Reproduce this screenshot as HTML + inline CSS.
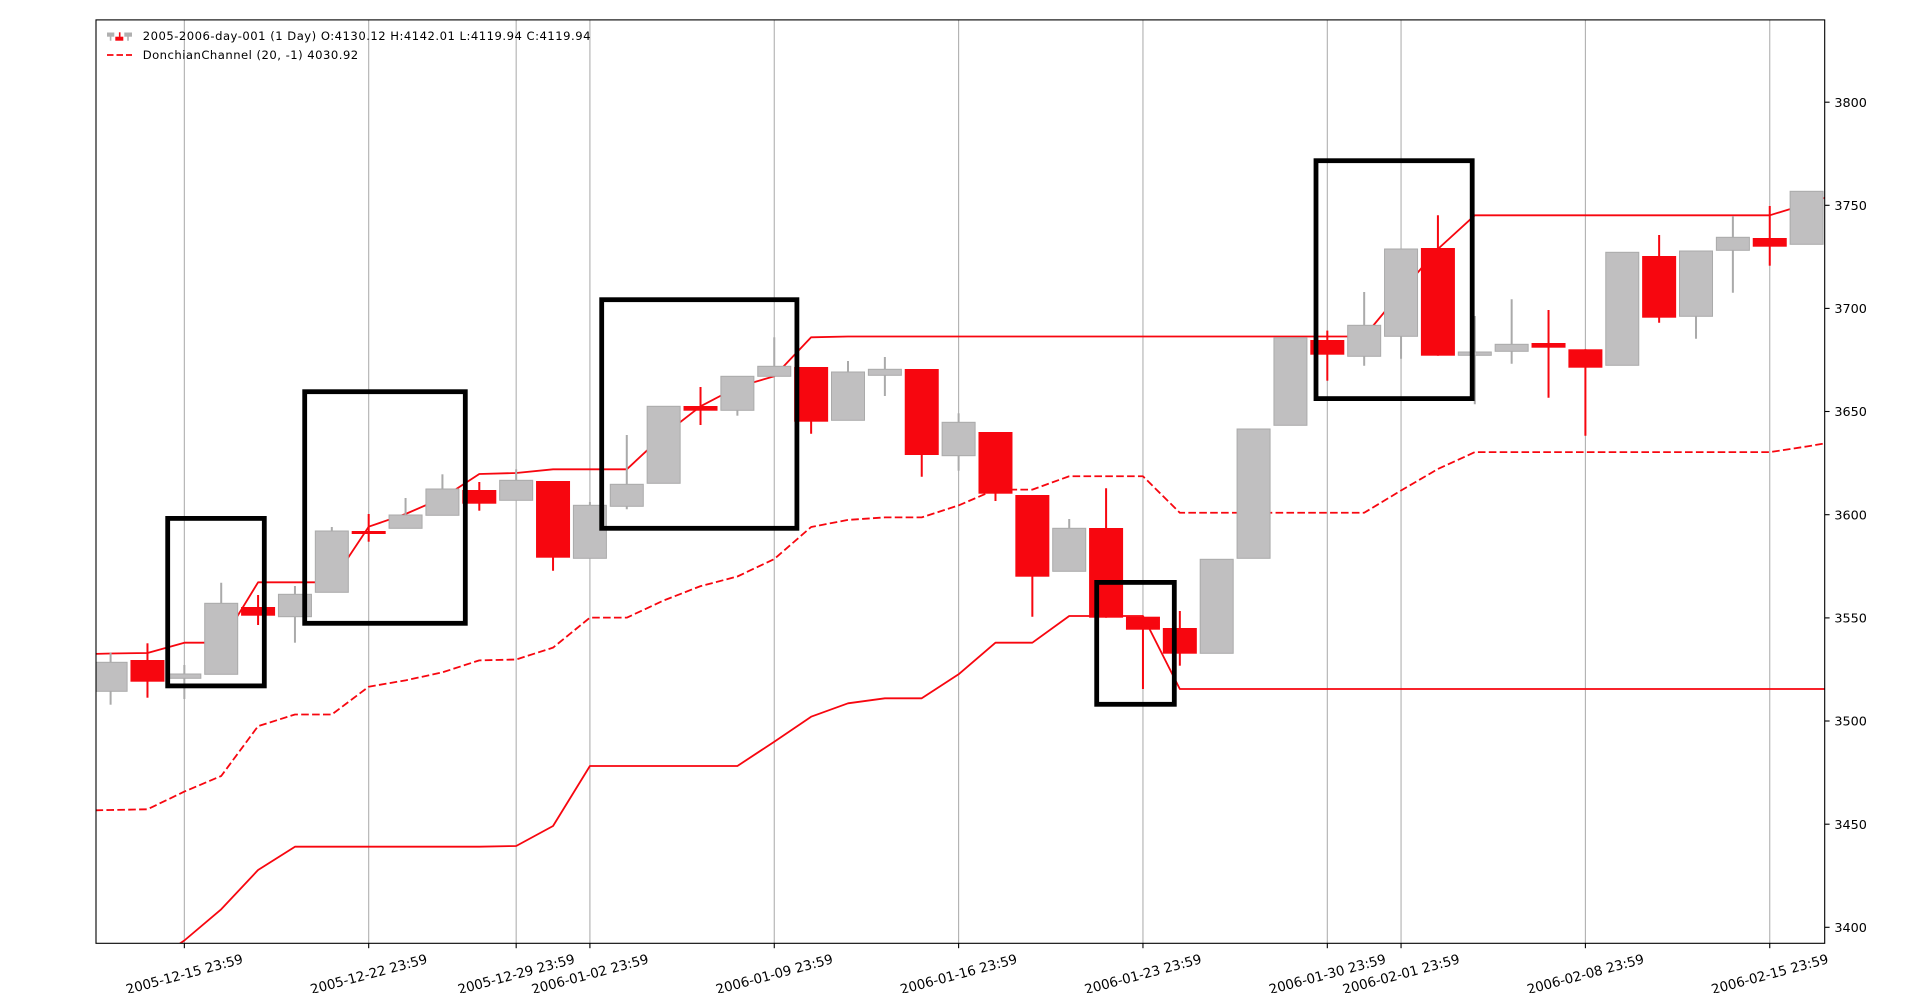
<!DOCTYPE html>
<html><head><meta charset="utf-8"><style>
html,body{margin:0;padding:0;background:#fff;}
svg{display:block;}
text{font-family:"DejaVu Sans","Liberation Sans",sans-serif;fill:#000;}
</style></head><body>
<svg width="1920" height="993" viewBox="0 0 1920 993" xmlns="http://www.w3.org/2000/svg">
<defs><clipPath id="c"><rect x="96" y="19.9" width="1728.7" height="923.4"/></clipPath></defs>
<rect x="0" y="0" width="1920" height="993" fill="#fff"/>
<g stroke="#b0b0b0" stroke-width="1.1">
<line x1="184.34" y1="19.9" x2="184.34" y2="943.3"/><line x1="368.69" y1="19.9" x2="368.69" y2="943.3"/>
<line x1="516.17" y1="19.9" x2="516.17" y2="943.3"/><line x1="589.91" y1="19.9" x2="589.91" y2="943.3"/>
<line x1="774.26" y1="19.9" x2="774.26" y2="943.3"/><line x1="958.61" y1="19.9" x2="958.61" y2="943.3"/>
<line x1="1142.96" y1="19.9" x2="1142.96" y2="943.3"/><line x1="1327.31" y1="19.9" x2="1327.31" y2="943.3"/>
<line x1="1401.05" y1="19.9" x2="1401.05" y2="943.3"/><line x1="1585.4" y1="19.9" x2="1585.4" y2="943.3"/>
<line x1="1769.75" y1="19.9" x2="1769.75" y2="943.3"/>
</g>
<g clip-path="url(#c)" fill="none" stroke="#f7060f" stroke-width="1.8" stroke-linejoin="round">
<polyline points="73.73,654.5 110.6,653.5 147.47,653 184.34,642.7 221.21,642.7 258.08,582.3 294.95,582.3 331.82,582.3 368.69,526.7 405.56,514 442.43,498 479.3,474 516.17,473 553.04,469.3 589.91,469.3 626.78,469.3 663.65,435 700.52,406.3 737.39,387 774.26,376.3 811.13,337.3 848,336.5 1364.18,336.5 1401.05,292 1437.92,249 1474.79,215.3 1769.75,215.3 1806.62,204 1843.49,191.3"/>
<polyline points="73.73,967 110.6,966.5 147.47,965.6 184.34,940.5 221.21,909.3 258.08,870 294.95,846.7 479.3,846.7 516.17,846 553.04,826 589.91,766 737.39,766 774.26,741.7 811.13,716.7 848,703.3 884.87,698.3 921.74,698.3 958.61,674.3 995.48,642.7 1032.35,642.7 1069.22,616 1142.96,616 1179.83,689 1843.49,689"/>
<polyline stroke-dasharray="7.6 3.3" points="73.73,810.75 110.6,810 147.47,809.3 184.34,791.6 221.21,776 258.08,726.15 294.95,714.5 331.82,714.5 368.69,686.7 405.56,680.35 442.43,672.35 479.3,660.35 516.17,659.5 553.04,647.65 589.91,617.65 626.78,617.65 663.65,600.5 700.52,586.15 737.39,576.5 774.26,559 811.13,527 848,519.9 884.87,517.4 921.74,517.4 958.61,505.4 995.48,489.6 1032.35,489.6 1069.22,476.25 1142.96,476.25 1179.83,512.75 1364.18,512.75 1401.05,490.5 1437.92,469 1474.79,452.15 1769.75,452.15 1806.62,446.5 1843.49,440.2"/>
</g>
<g clip-path="url(#c)">
<g stroke="#aaaaaa" stroke-width="2">
<line x1="110.6" y1="652.7" x2="110.6" y2="704.7"/>
<line x1="184.34" y1="665" x2="184.34" y2="699"/>
<line x1="221.21" y1="582.7" x2="221.21" y2="674.3"/>
<line x1="294.95" y1="586" x2="294.95" y2="642.7"/>
<line x1="331.82" y1="527" x2="331.82" y2="592.3"/>
<line x1="405.56" y1="498" x2="405.56" y2="528.3"/>
<line x1="442.43" y1="474.3" x2="442.43" y2="515.3"/>
<line x1="516.17" y1="469.3" x2="516.17" y2="500.3"/>
<line x1="589.91" y1="502" x2="589.91" y2="558.3"/>
<line x1="626.78" y1="435" x2="626.78" y2="509.3"/>
<line x1="737.39" y1="376.3" x2="737.39" y2="415.7"/>
<line x1="774.26" y1="337.3" x2="774.26" y2="376.3"/>
<line x1="848" y1="361" x2="848" y2="420.3"/>
<line x1="884.87" y1="357" x2="884.87" y2="396"/>
<line x1="958.61" y1="413.3" x2="958.61" y2="470.7"/>
<line x1="1069.22" y1="519" x2="1069.22" y2="571.3"/>
<line x1="1364.18" y1="292" x2="1364.18" y2="365.7"/>
<line x1="1401.05" y1="249" x2="1401.05" y2="358.7"/>
<line x1="1474.79" y1="316" x2="1474.79" y2="404.3"/>
<line x1="1511.66" y1="299.3" x2="1511.66" y2="363.7"/>
<line x1="1696.01" y1="251" x2="1696.01" y2="338.7"/>
<line x1="1732.88" y1="216" x2="1732.88" y2="292.7"/>
</g>
<g fill="#c0bfc0" stroke="#aaaaaa" stroke-width="1">
<rect x="94.1" y="662.3" width="33" height="29"/>
<rect x="167.84" y="674" width="33" height="4.3"/>
<rect x="204.71" y="603.3" width="33" height="71"/>
<rect x="278.45" y="594.3" width="33" height="22.4"/>
<rect x="315.32" y="531" width="33" height="61.3"/>
<rect x="389.06" y="515" width="33" height="13.3"/>
<rect x="425.93" y="489" width="33" height="26.3"/>
<rect x="499.67" y="480.3" width="33" height="20"/>
<rect x="573.41" y="505.3" width="33" height="53"/>
<rect x="610.28" y="484.3" width="33" height="22"/>
<rect x="647.15" y="406.3" width="33" height="77"/>
<rect x="720.89" y="376.3" width="33" height="34"/>
<rect x="757.76" y="366.3" width="33" height="10"/>
<rect x="831.5" y="372" width="33" height="48.3"/>
<rect x="868.37" y="369.3" width="33" height="6"/>
<rect x="942.11" y="422.3" width="33" height="33.4"/>
<rect x="1052.72" y="528.3" width="33" height="43"/>
<rect x="1200.2" y="559.3" width="33" height="94"/>
<rect x="1237.07" y="429" width="33" height="129.3"/>
<rect x="1273.94" y="337.7" width="33" height="87.6"/>
<rect x="1347.68" y="325.3" width="33" height="31"/>
<rect x="1384.55" y="249" width="33" height="87.3"/>
<rect x="1458.29" y="352" width="33" height="3.3"/>
<rect x="1495.16" y="344.3" width="33" height="7"/>
<rect x="1605.77" y="252.3" width="33" height="113"/>
<rect x="1679.51" y="251" width="33" height="65.3"/>
<rect x="1716.38" y="237.3" width="33" height="13"/>
<rect x="1790.12" y="191.3" width="33" height="53"/>
</g>
<g stroke="#f7060f" stroke-width="2">
<line x1="147.47" y1="643.3" x2="147.47" y2="697.7"/>
<line x1="258.08" y1="595" x2="258.08" y2="625"/>
<line x1="368.69" y1="514" x2="368.69" y2="541.7"/>
<line x1="479.3" y1="482" x2="479.3" y2="510.7"/>
<line x1="553.04" y1="481" x2="553.04" y2="570.7"/>
<line x1="700.52" y1="387" x2="700.52" y2="425"/>
<line x1="811.13" y1="367" x2="811.13" y2="433.7"/>
<line x1="921.74" y1="369" x2="921.74" y2="476.7"/>
<line x1="995.48" y1="432" x2="995.48" y2="501"/>
<line x1="1032.35" y1="495" x2="1032.35" y2="616.7"/>
<line x1="1106.09" y1="488.3" x2="1106.09" y2="617.7"/>
<line x1="1142.96" y1="616.7" x2="1142.96" y2="689"/>
<line x1="1179.83" y1="611" x2="1179.83" y2="665.7"/>
<line x1="1327.31" y1="330.6" x2="1327.31" y2="380.7"/>
<line x1="1437.92" y1="215.3" x2="1437.92" y2="355.7"/>
<line x1="1548.53" y1="310" x2="1548.53" y2="397.7"/>
<line x1="1585.4" y1="349.3" x2="1585.4" y2="435.7"/>
<line x1="1659.14" y1="235" x2="1659.14" y2="322.7"/>
<line x1="1769.75" y1="206" x2="1769.75" y2="265.7"/>
</g>
<g fill="#f7060f">
<rect x="130.47" y="660" width="34" height="21.7"/>
<rect x="241.08" y="607" width="34" height="8.7"/>
<rect x="351.69" y="531" width="34" height="3"/>
<rect x="462.3" y="490" width="34" height="13.7"/>
<rect x="536.04" y="481" width="34" height="76.7"/>
<rect x="683.52" y="406" width="34" height="4.7"/>
<rect x="794.13" y="367" width="34" height="54.7"/>
<rect x="904.74" y="369" width="34" height="86"/>
<rect x="978.48" y="432" width="34" height="61.7"/>
<rect x="1015.35" y="495" width="34" height="81.7"/>
<rect x="1089.09" y="528" width="34" height="89.7"/>
<rect x="1125.96" y="616.7" width="34" height="13"/>
<rect x="1162.83" y="628" width="34" height="25.7"/>
<rect x="1310.31" y="340" width="34" height="14.7"/>
<rect x="1420.92" y="248" width="34" height="107.7"/>
<rect x="1531.53" y="343" width="34" height="4.7"/>
<rect x="1568.4" y="349.3" width="34" height="18.4"/>
<rect x="1642.14" y="256" width="34" height="61.7"/>
<rect x="1752.75" y="238" width="34" height="8.7"/>
</g>
</g>
<g fill="none" stroke="#000" stroke-width="4.8">
<rect x="167.7" y="518.4" width="96.6" height="167.5"/>
<rect x="304.7" y="391.7" width="160.6" height="231.6"/>
<rect x="601.7" y="299.7" width="195.2" height="228.6"/>
<rect x="1096.7" y="582.4" width="77.6" height="121.9"/>
<rect x="1316" y="160.7" width="156.2" height="237.9"/>
</g>
<rect x="96" y="19.9" width="1728.7" height="923.4" fill="none" stroke="#000" stroke-width="1.1"/>
<g stroke="#000" stroke-width="1.1">
<line x1="184.34" y1="943.3" x2="184.34" y2="948.2"/><line x1="368.69" y1="943.3" x2="368.69" y2="948.2"/>
<line x1="516.17" y1="943.3" x2="516.17" y2="948.2"/><line x1="589.91" y1="943.3" x2="589.91" y2="948.2"/>
<line x1="774.26" y1="943.3" x2="774.26" y2="948.2"/><line x1="958.61" y1="943.3" x2="958.61" y2="948.2"/>
<line x1="1142.96" y1="943.3" x2="1142.96" y2="948.2"/><line x1="1327.31" y1="943.3" x2="1327.31" y2="948.2"/>
<line x1="1401.05" y1="943.3" x2="1401.05" y2="948.2"/><line x1="1585.4" y1="943.3" x2="1585.4" y2="948.2"/>
<line x1="1769.75" y1="943.3" x2="1769.75" y2="948.2"/>
<line x1="1824.7" y1="102.2" x2="1829.6" y2="102.2"/><line x1="1824.7" y1="205.3" x2="1829.6" y2="205.3"/>
<line x1="1824.7" y1="308.4" x2="1829.6" y2="308.4"/><line x1="1824.7" y1="411.5" x2="1829.6" y2="411.5"/>
<line x1="1824.7" y1="514.7" x2="1829.6" y2="514.7"/><line x1="1824.7" y1="617.9" x2="1829.6" y2="617.9"/>
<line x1="1824.7" y1="721" x2="1829.6" y2="721"/><line x1="1824.7" y1="824.2" x2="1829.6" y2="824.2"/>
<line x1="1824.7" y1="927.3" x2="1829.6" y2="927.3"/>
</g>
<g font-size="12.8">
<text x="1834.4" y="106.8" textLength="32.5">3800</text>
<text x="1834.4" y="209.9" textLength="32.5">3750</text>
<text x="1834.4" y="313" textLength="32.5">3700</text>
<text x="1834.4" y="416.1" textLength="32.5">3650</text>
<text x="1834.4" y="519.3" textLength="32.5">3600</text>
<text x="1834.4" y="622.5" textLength="32.5">3550</text>
<text x="1834.4" y="725.6" textLength="32.5">3500</text>
<text x="1834.4" y="828.8" textLength="32.5">3450</text>
<text x="1834.4" y="931.9" textLength="32.5">3400</text>
</g>
<g font-size="13.4" text-anchor="middle">
<text transform="translate(184.34,974) rotate(-15)" y="4.8" textLength="120.5">2005-12-15 23:59</text>
<text transform="translate(368.69,974) rotate(-15)" y="4.8" textLength="120.5">2005-12-22 23:59</text>
<text transform="translate(516.17,974) rotate(-15)" y="4.8" textLength="120.5">2005-12-29 23:59</text>
<text transform="translate(589.91,974) rotate(-15)" y="4.8" textLength="120.5">2006-01-02 23:59</text>
<text transform="translate(774.26,974) rotate(-15)" y="4.8" textLength="120.5">2006-01-09 23:59</text>
<text transform="translate(958.61,974) rotate(-15)" y="4.8" textLength="120.5">2006-01-16 23:59</text>
<text transform="translate(1142.96,974) rotate(-15)" y="4.8" textLength="120.5">2006-01-23 23:59</text>
<text transform="translate(1327.31,974) rotate(-15)" y="4.8" textLength="120.5">2006-01-30 23:59</text>
<text transform="translate(1401.05,974) rotate(-15)" y="4.8" textLength="120.5">2006-02-01 23:59</text>
<text transform="translate(1585.4,974) rotate(-15)" y="4.8" textLength="120.5">2006-02-08 23:59</text>
<text transform="translate(1769.75,974) rotate(-15)" y="4.8" textLength="120.5">2006-02-15 23:59</text>
</g>
<g>
<rect x="107" y="32.5" width="7.3" height="4.2" fill="#b0b0b0"/>
<rect x="109.8" y="36.5" width="1.6" height="4.2" fill="#b0b0b0"/>
<rect x="115.3" y="36.7" width="8" height="4" fill="#f7060f"/>
<rect x="118.9" y="32.3" width="1.6" height="4.6" fill="#f7060f"/>
<rect x="124.3" y="32.5" width="7.7" height="4.2" fill="#b0b0b0"/>
<rect x="127.2" y="36.5" width="1.6" height="4.2" fill="#b0b0b0"/>
<line x1="107" y1="55" x2="132" y2="55" stroke="#f7060f" stroke-width="1.8" stroke-dasharray="6.5 3"/>
<text x="142.7" y="39.9" font-size="11.6" textLength="447.8">2005-2006-day-001 (1 Day) O:4130.12 H:4142.01 L:4119.94 C:4119.94</text>
<text x="142.7" y="59.2" font-size="11.6" textLength="215.5">DonchianChannel (20, -1) 4030.92</text>
</g>
</svg>
</body></html>
